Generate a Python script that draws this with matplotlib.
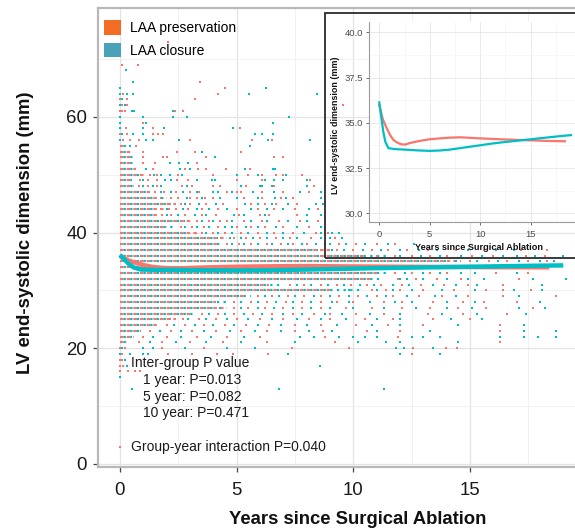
import matplotlib
matplotlib.use("Agg")
import matplotlib.pyplot as plt
from matplotlib.patches import Patch, Rectangle
from matplotlib.ticker import MultipleLocator, FormatStrFormatter
import numpy as np

plt.rcParams['font.family'] = ['Liberation Sans', 'DejaVu Sans']

RED = '#F8766D'
TEAL = '#00BFC4'

# legend
legend_labels = ["LAA preservation", "LAA closure"]
legend_colors = ['#F26C24', '#49A2B8']

# smoothed trajectories (years, mm)
red_curve_x = [0, 0.35, 0.73, 1.1, 1.4, 1.8, 2.2, 2.6, 3, 4, 5, 6, 7, 8, 10, 12, 14, 16.6, 18.4]
red_curve_y = [35.98, 35.2, 34.7, 34.3, 34.05, 33.9, 33.81, 33.80, 33.88, 34.0, 34.09, 34.14, 34.18, 34.2,
               34.14, 34.09, 34.05, 34.0, 33.98]
teal_curve_x = [0, 0.2, 0.4, 0.6, 0.9, 1.5, 2.5, 4, 5, 6, 7, 8, 9, 10, 11, 12, 13, 14, 15, 16, 17, 18, 19]
teal_curve_y = [36.13, 35.3, 34.5, 33.95, 33.6, 33.55, 33.52, 33.47, 33.45, 33.47, 33.52, 33.6, 33.68,
                33.76, 33.84, 33.91, 33.97, 34.03, 34.09, 34.15, 34.21, 34.27, 34.32]

# rows where measurements are packed so tightly they form a line: level (mm) -> last year
red_dense = {55: 0.3, 54: 0.55, 53: 0.55, 52: 0.55, 51: 0.7, 50: 1.1, 49: 0.5, 48: 0.6, 47: 1.3, 46: 2.0,
             45: 2.4, 44: 1.9, 43: 1.6, 42: 3.1, 41: 2.0, 40: 3.3, 39: 4.6, 38: 4.3, 37: 9.0, 36: 10.5,
             35: 14.6, 34: 16.5, 33: 11.0, 32: 10.8, 31: 6.4, 30: 9.0, 29: 5.3, 28: 4.1, 27: 4.6, 26: 3.0,
             25: 2.4, 24: 1.7, 23: 0.9, 22: 0.6, 21: 0.3}
teal_dense = {55: 0.3, 54: 0.3, 53: 0.55, 52: 0.55, 51: 0.7, 50: 1.0, 49: 0.5, 48: 0.6, 47: 1.3, 46: 1.6,
              45: 2.2, 44: 1.6, 43: 1.5, 42: 2.8, 41: 2.4, 40: 3.0, 39: 4.2, 38: 4.3, 37: 8.5, 36: 11.5,
              35: 14.0, 34: 17.5, 33: 11.4, 32: 11.1, 31: 7.0, 30: 10.4, 29: 5.6, 28: 4.6, 27: 4.0, 26: 3.2,
              25: 2.2, 24: 1.5, 23: 1.0, 22: 0.5, 21: 0.3}

# scattered single measurements: level (mm) -> years
red_pts = {
    73: [2.06], 72: [1.29], 69: [0.07, 0.76], 66: [3.43], 65: [4.5], 64: [0.14, 4.21],
    63: [0.0, 0.3, 3.21], 62: [0.1, 0.3, 9.56], 61: [0.0, 0.1, 0.2, 2.36, 2.71], 59: [1.0],
    58: [0.26, 1.43, 5.14], 57: [0.0, 0.3, 1.43, 1.65, 1.86], 56: [0.14, 0.43, 0.83, 3.0, 5.64, 6.5],
    55: [0.71], 54: [1.0, 2.43, 3.21, 5.21], 53: [1.0, 1.84, 2.0, 3.71, 6.6, 6.97], 52: [1.0, 1.5, 3.29],
    51: [1.43, 2.79, 3.36, 3.71, 4.54, 5.57], 50: [1.3, 1.59, 2.49, 4.0, 5.5, 6.1, 6.7, 7.0, 7.8],
    49: [0.86, 1.2, 1.57, 2.43, 2.93, 5.0, 6.1, 8.14], 48: [0.8, 1.2, 1.6, 2.64, 3.07, 4.0, 4.29, 5.4, 6.6, 8.3],
    47: [1.5, 1.9, 2.4, 3.0, 3.4, 4.6, 5.0, 5.2, 6.1, 7.0, 8.1],
    46: [2.2, 2.5, 3.0, 3.3, 3.64, 4.0, 5.3, 6.1, 6.9, 7.4], 45: [2.6, 3.0, 3.7, 4.4, 5.6, 6.2, 6.7, 7.6],
    44: [2.1, 2.4, 2.9, 3.5, 4.2, 5.0, 5.9, 6.6, 7.5, 8.5], 43: [1.8, 2.2, 2.8, 3.5, 4.1, 5.1, 6.0, 6.4, 7.6],
    42: [3.3, 3.8, 4.3, 4.6, 5.3, 6.1, 6.8, 7.7, 8.5], 41: [2.6, 3.1, 3.6, 4.2, 5.0, 5.6, 6.2, 7.0, 8.1],
    40: [3.5, 4.0, 4.5, 5.2, 5.9, 6.6, 7.4, 8.4, 8.9], 39: [4.9, 5.4, 6.0, 6.7, 7.3, 8.2, 9.2],
    38: [4.6, 5.1, 5.6, 6.3, 6.9, 7.4, 8.0, 8.8, 9.4, 10.1, 11.0, 11.8],
    37: [9.3, 10.0, 10.8, 11.5, 12.3, 13.2, 14.4, 15.6, 17.2, 18.3],
    36: [11.0, 11.8, 12.5, 13.3, 14.0, 15.1, 16.0, 17.4, 18.2], 35: [15.0, 15.8, 16.6, 17.5, 18.3],
    33: [11.8, 12.5, 13.3, 14.0, 16.1, 17.5], 32: [11.9, 12.7, 13.6, 14.6, 17.1],
    31: [7.3, 7.9, 8.6, 9.3, 9.9, 10.6, 11.2, 12.1, 12.9, 13.9, 14.9, 16.4],
    30: [10.8, 11.4, 12.0, 13.0, 14.3, 15.7, 16.4, 17.6],
    29: [5.9, 6.5, 7.2, 7.9, 8.6, 9.4, 10.2, 11.0, 11.7, 12.8, 13.8, 14.9, 16.4, 18.7],
    28: [4.9, 5.6, 6.3, 7.1, 7.8, 8.6, 9.3, 10.0, 11.3, 12.1, 13.4, 14.7, 15.6, 17.0],
    27: [4.9, 5.5, 6.2, 7.0, 7.8, 8.6, 9.7, 10.8, 12.1, 13.3, 14.5, 15.7, 17.7],
    26: [3.5, 4.2, 4.9, 5.7, 6.5, 7.4, 8.3, 9.0, 10.1, 11.3, 13.2, 14.7, 16.6],
    25: [2.7, 3.4, 4.1, 5.0, 6.0, 7.0, 8.1, 9.0, 10.5, 11.7, 13.4, 15.0],
    24: [2.0, 2.8, 3.6, 4.5, 5.4, 6.4, 7.5, 8.6, 10.1, 11.5, 13.0, 16.3],
    23: [1.3, 2.2, 3.1, 4.1, 5.2, 6.3, 7.5, 8.7, 10.6, 12.0, 16.3],
    22: [1.0, 2.0, 3.3, 4.6, 6.0, 8.8, 11.9], 21: [0.8, 1.8, 3.0, 4.4, 6.3, 9.2, 16.3],
    20: [0.0, 0.2, 1.8, 3.6, 7.36, 9.83, 12.54, 13.97, 14.46],
    19: [0.1, 2.07, 3.07, 4.14, 4.86, 6.36, 12.5], 18: [0.0, 0.07], 17: [0.0, 0.15],
    16: [0.0, 0.36, 0.64, 0.86], 3: [0.0],
}
teal_pts = {
    68: [0.24], 66: [0.57], 65: [0.0, 6.24], 64: [0.0, 0.29, 0.57, 5.52, 8.43], 63: [0.1], 62: [0.0, 0.2],
    61: [0.5, 0.6, 2.26], 60: [0.0, 1.0, 2.29, 2.86, 7.26], 59: [0.0, 1.1, 6.54], 58: [0.0, 1.0, 1.89, 4.83],
    57: [0.1, 0.57, 1.0, 5.81, 6.07, 6.54], 56: [0.0, 1.11, 1.4, 2.54, 6.34, 8.14], 55: [0.43, 5.57],
    54: [3.5], 53: [4.07], 52: [2.14, 2.54, 2.93], 51: [1.1, 2.57, 3.0, 5.36, 6.54, 6.64],
    50: [1.45, 1.76, 2.14, 2.66, 5.0, 5.9, 7.1], 49: [1.0, 1.93, 2.2, 3.29, 3.93, 4.07, 6.2, 6.6, 7.0, 8.0],
    48: [1.0, 1.4, 1.76, 2.86, 5.2, 6.0, 6.1, 6.5, 8.0], 47: [1.76, 2.2, 2.7, 3.3, 4.0, 4.2, 4.8, 5.7, 6.6, 7.7, 8.6],
    46: [1.8, 2.86, 3.5, 4.3, 5.0, 5.9, 6.64, 7.1, 8.6], 45: [2.8, 3.4, 4.1, 5.36, 5.9, 6.5, 7.2, 8.4, 8.7],
    44: [2.0, 2.7, 3.3, 3.8, 4.6, 5.6, 6.3, 7.0, 8.1], 43: [2.0, 2.5, 3.2, 3.7, 4.9, 5.3, 6.2, 8.0, 8.6],
    42: [3.5, 4.0, 4.8, 5.6, 6.3, 7.2, 8.0], 41: [2.8, 3.3, 3.8, 4.5, 4.8, 5.4, 5.9, 6.7, 7.6, 8.6],
    40: [3.7, 4.2, 4.8, 5.5, 6.3, 7.0, 7.9, 8.6, 9.1, 9.4], 39: [4.7, 5.2, 5.7, 6.3, 7.0, 7.6, 8.6, 9.0, 9.5],
    38: [4.8, 5.3, 5.9, 6.5, 7.2, 7.8, 8.4, 9.0, 9.7, 10.5, 11.5, 12.6],
    37: [9.1, 9.6, 10.4, 11.2, 12.0, 12.8, 13.6, 14.9, 16.1, 16.9],
    36: [12.0, 12.9, 13.7, 14.6, 15.5, 16.4, 17.0, 17.8, 19.0], 35: [14.4, 15.3, 16.2, 17.1, 18.0, 18.6],
    33: [12.2, 13.0, 13.7, 14.6, 15.2, 17.0], 32: [12.0, 12.3, 13.0, 14.0, 14.9, 15.6, 17.7, 19.1],
    31: [7.6, 8.2, 8.9, 9.6, 10.3, 10.9, 11.7, 12.4, 13.4, 14.4, 15.3, 18.1],
    30: [9.8, 11.0, 11.7, 12.5, 13.8, 15.2, 16.9, 18.1],
    29: [6.2, 6.8, 7.5, 8.3, 9.0, 9.8, 10.6, 11.4, 12.3, 13.5, 14.4, 17.1],
    28: [5.2, 5.9, 6.7, 7.4, 8.2, 9.1, 9.8, 10.7, 11.8, 12.5, 14.0, 15.2, 18.0],
    27: [4.3, 5.2, 5.9, 6.6, 7.4, 8.2, 9.0, 10.0, 11.3, 12.7, 14.0, 15.1, 17.1, 18.2],
    26: [3.8, 4.5, 5.3, 6.1, 7.0, 7.8, 8.8, 9.5, 10.7, 12.0, 13.8, 15.3, 17.4],
    25: [2.9, 3.7, 4.6, 5.5, 6.5, 7.6, 8.6, 9.7, 11.0, 12.0, 14.2, 15.5],
    24: [2.3, 3.2, 4.0, 4.9, 5.9, 6.9, 8.0, 9.3, 10.8, 12.0, 14.5, 17.3],
    23: [1.7, 2.6, 3.6, 4.7, 5.8, 6.9, 8.1, 9.1, 11.0, 13.3, 17.3, 18.7],
    22: [1.4, 2.6, 3.9, 5.3, 7.7, 8.3, 9.4, 10.0, 10.5, 11.0, 12.5, 13.0, 13.7, 16.3, 17.3, 17.9, 18.7],
    21: [1.3, 2.4, 3.7, 5.2, 7.5, 10.2, 11.4, 12.0, 14.5],
    20: [0.1, 1.0, 1.4, 2.8, 4.6, 5.8, 11.83, 12.17, 13.43],
    19: [0.0, 0.43, 1.0, 1.21, 7.21, 12.0, 13.7], 18: [0.2], 17: [0.3, 8.57], 15: [0.0],
    13: [0.5, 6.83, 11.3],
}

p_header = "Inter-group P value"
p_lines = ["1 year: P=0.013", "5 year: P=0.082", "10 year: P=0.471"]
p_interaction = "Group-year interaction P=0.040"


def flatten(pts):
    xs, ys = [], []
    for lvl, vals in pts.items():
        xs += vals
        ys += [lvl] * len(vals)
    return np.array(xs), np.array(ys)


fig = plt.figure(figsize=(5.75, 5.31), dpi=100)
W, H = 575, 531


def fig_rect(x0, y0, x1, y1):
    # pixel box (top-left origin) -> figure fraction
    return [x0 / W, 1 - y1 / H, (x1 - x0) / W, (y1 - y0) / H]


ax = fig.add_axes(fig_rect(97.5, 8, 585, 467))
ax.set_xlim(-0.96, 19.93)
ax.set_ylim(-0.52, 78.8)

# dense rows drawn as interleaved red / teal dashes
for lvl, end in red_dense.items():
    ax.hlines(lvl, 0, end, colors=RED, lw=1.5, linestyles=[(0, (1.7, 1.5))], zorder=2)
for lvl, end in teal_dense.items():
    ax.hlines(lvl, 0, end, colors=TEAL, lw=1.5, linestyles=[(-1.7, (1.1, 2.1))], zorder=2)

rx, ry = flatten(red_pts)
tx, ty = flatten(teal_pts)
ax.scatter(rx, ry, marker='s', s=2.8, color=RED, linewidths=0, zorder=3)
ax.scatter(tx, ty, marker='s', s=2.8, color=TEAL, linewidths=0, zorder=3)

ax.plot(red_curve_x, red_curve_y, color=RED, lw=3.2, zorder=4, solid_capstyle='butt')
ax.plot(teal_curve_x, teal_curve_y, color=TEAL, lw=3.2, zorder=5, solid_capstyle='butt')

ax.xaxis.set_major_locator(MultipleLocator(5))
ax.xaxis.set_minor_locator(MultipleLocator(2.5))
ax.yaxis.set_major_locator(MultipleLocator(20))
ax.yaxis.set_minor_locator(MultipleLocator(10))
ax.grid(which='major', color='#e3e3e3', lw=0.9, zorder=0)
ax.grid(which='minor', color='#efefef', lw=0.6, zorder=0)
ax.set_axisbelow(True)
for s in ax.spines.values():
    s.set_color('#b8b8b8')
    s.set_linewidth(1.6)
ax.tick_params(which='major', length=3.5, width=0.9, color='#444444', labelsize=13.4,
               labelcolor='#1a1a1a', pad=4)
ax.tick_params(axis='x', which='major', pad=7)
ax.tick_params(which='minor', length=0)

fig.text(26 / W, 1 - 233 / H, "LV end-systolic dimension (mm)", rotation=90, fontsize=13.3,
         fontweight='bold', ha='center', va='center', color='#111111')
fig.text(358 / W, 1 - 519 / H, "Years since Surgical Ablation", fontsize=13.3,
         fontweight='bold', ha='center', va='center', color='#111111')

handles = [Patch(facecolor=c, edgecolor='none') for c in legend_colors]
fig.legend(handles, legend_labels, loc='upper left', bbox_to_anchor=(104 / W, 1 - 20 / H),
           bbox_transform=fig.transFigure, frameon=False, fontsize=10, handlelength=1.25,
           handleheight=1.25, handletextpad=0.6, labelspacing=0.55, borderpad=0, borderaxespad=0)

ax.text(0.47, 17.4, p_header, fontsize=10, va='center', ha='left', color='#1a1a1a', zorder=6)
for i, line in enumerate(p_lines):
    ax.text(0.99, 14.5 - 2.85 * i, line, fontsize=10, va='center', ha='left', color='#1a1a1a', zorder=6)
ax.text(0.47, 2.9, p_interaction, fontsize=10, va='center', ha='left', color='#1a1a1a', zorder=6)

# inset box (transparent outside the panel)
box = Rectangle((325 / W, 1 - 258 / H), 270 / W, (258 - 13.3) / H, transform=fig.transFigure,
                fill=False, edgecolor='#2b2b2b', lw=1.3, zorder=3)
fig.patches.append(box)

ins = fig.add_axes(fig_rect(369.3, 22, 580.6, 222))
ins.set_zorder(4)
ins.set_facecolor('white')
ins.set_xlim(-0.99, 19.95)
ins.set_ylim(29.52, 40.57)
ins.plot(red_curve_x, red_curve_y, color=RED, lw=1.6)
ins.plot(teal_curve_x, teal_curve_y, color=TEAL, lw=1.6)
ins.xaxis.set_major_locator(MultipleLocator(5))
ins.xaxis.set_minor_locator(MultipleLocator(2.5))
ins.yaxis.set_major_locator(MultipleLocator(2.5))
ins.yaxis.set_minor_locator(MultipleLocator(1.25))
ins.yaxis.set_major_formatter(FormatStrFormatter('%.1f'))
ins.grid(which='major', color='#e6e6e6', lw=0.6)
ins.grid(which='minor', color='#f2f2f2', lw=0.4)
ins.set_axisbelow(True)
for side in ['top', 'right']:
    ins.spines[side].set_visible(False)
for side in ['left', 'bottom']:
    ins.spines[side].set_color('#9a9a9a')
    ins.spines[side].set_linewidth(0.8)
ins.tick_params(which='major', length=2, width=0.6, color='#555555', labelsize=6.8,
                labelcolor='#4d4d4d', pad=2.5)
ins.tick_params(axis='x', which='major', pad=4)
ins.tick_params(which='minor', length=0)
fig.text(335 / W, 1 - 125 / H, "LV end-systolic dimension (mm)", rotation=90, fontsize=6.4,
         fontweight='bold', ha='center', va='center', color='#111111', zorder=5)
fig.text(479 / W, 1 - 247 / H, "Years since Surgical Ablation", fontsize=6.6,
         fontweight='bold', ha='center', va='center', color='#111111', zorder=5)

fig.savefig("out.png", dpi=100)
